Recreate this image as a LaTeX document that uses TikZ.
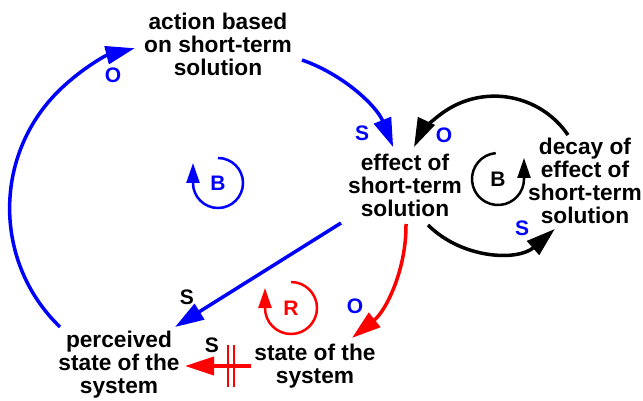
\documentclass[tikz,border=0pt]{standalone}
\usepackage{fontspec}
\setmainfont{Liberation Sans}
\usetikzlibrary{arrows.meta}
\begin{document}
\begin{tikzpicture}[x=1pt,y=-1pt,
  txt/.style={font=\bfseries\fontsize{22.7}{23}\selectfont, align=center, inner sep=0pt},
  sign/.style={font=\bfseries\fontsize{21}{21}\selectfont, inner sep=0pt},
  link/.style={line width=3.5pt, -{Triangle[length=29pt,width=18pt]}},
  loopmark/.style={line width=2.5pt, -{Triangle[length=20pt,width=13pt]}},
]
\useasboundingbox (0,0) rectangle (643,401);
% text nodes
\node[txt] (action) at (218,44) {action based\\on short-term\\solution};
\node[txt] (effect) at (405,185) {effect of\\short-term\\solution};
\node[txt] (decay) at (585,181) {decay of\\effect of\\short-term\\solution};
\node[txt] (perceived) at (119,365) {perceived\\state of the\\system};
\node[txt] (state) at (315,366) {state of the\\system};
% connector end points
\coordinate (c1s) at (60,327);
\coordinate (c2s) at (302,60);
\coordinate (c3s) at (568,135);
\coordinate (c4s) at (428,225);
\coordinate (c5s) at (341,223);
\coordinate (c5e) at (175,327);
\coordinate (c6s) at (406,224);
\coordinate (c7s) at (251,366);
\coordinate (c7e) at (185,366);
% connectors
\draw[link, blue] (c1s) arc[start angle=134, end angle=256, radius=165];
\draw[link, blue] (c2s) arc[start angle=-70.8, end angle=-21.8, radius=152];
\draw[link, black] (c3s) arc[start angle=-34.3, end angle=-154.7, radius=89];
\draw[link, black] (c4s) arc[start angle=134.8, end angle=48.8, radius=93];
\draw[link, blue] (c5s) -- (c5e);
\draw[link, red] (c6s) arc[start angle=-0.7, end angle=51.4, radius=143.5];
\draw[link, red] (c7s) -- (c7e);
\draw[red, line width=2.2pt] (228,345) -- (228,387) (234,345) -- (234,387);
% polarity signs
\node[sign, text=blue] (o1) at (113,75) {O};
\node[sign, text=blue] (s2) at (362,133) {S};
\node[sign, text=blue] (o3) at (444,135) {O};
\node[sign, text=blue] (s4) at (522,228) {S};
\node[sign, text=black] (s5) at (187,297) {S};
\node[sign, text=blue] (o6) at (355,306) {O};
\node[sign, text=black] (s7) at (212,345) {S};
% loop markers
\node[sign, text=blue] (lb1) at (218,183) {B};
\draw[loopmark, blue] (lb1.center) ++(-90:25) arc[start angle=-90, end angle=180, radius=25] -- ++(0,-20);
\node[sign, text=black] (lb2) at (498,179) {B};
\draw[loopmark, black] (lb2.center) ++(-95:26) arc[start angle=-95, end angle=-360, radius=26] -- ++(0,-21);
\node[sign, text=red] (lr) at (291,308) {R};
\draw[loopmark, red] (lr.center) ++(-90:26) arc[start angle=-90, end angle=180, radius=26] -- ++(0,-20);
\end{tikzpicture}
\end{document}
